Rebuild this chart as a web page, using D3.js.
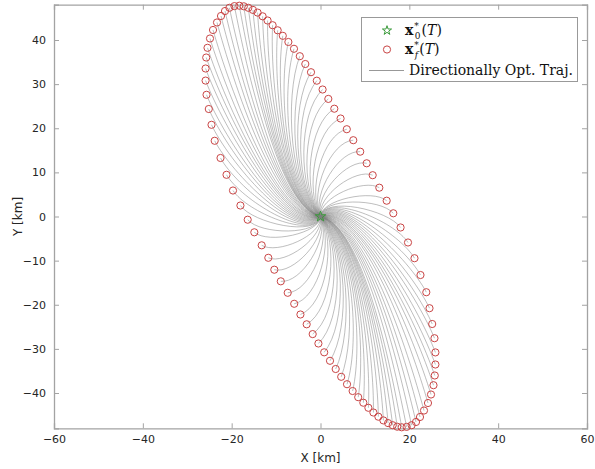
<!DOCTYPE html>
<html><head><meta charset="utf-8">
<script src="https://cdn.jsdelivr.net/npm/d3@7"></script>
<style>body{margin:0;background:#fff}svg{display:block}</style>
</head><body>
<svg id="c" width="595" height="469"></svg>
<script>
// final positions x_f*(T) [km]
const endX = [16.39,14.90,13.24,11.75,10.40,8.94,7.38,5.92,4.52,3.11,1.76,0.47,-0.83,-2.14,-3.42,-4.66,-5.97,-7.23,-8.49,-9.64,-10.78,-11.91,-13.03,-14.16,-15.22,-16.25,-17.27,-18.28,-19.38,-20.51,-21.50,-22.40,-23.30,-24.20,-24.88,-25.44,-25.73,-25.87,-25.87,-25.66,-25.15,-24.54,-23.82,-22.51,-21.16,-19.70,-18.03,
-16.39,-14.90,-13.24,-11.75,-10.40,-8.94,-7.38,-5.92,-4.52,-3.11,-1.76,-0.47,0.83,2.14,3.42,4.66,5.97,7.23,8.49,9.64,10.78,11.91,13.03,14.16,15.22,16.25,17.27,18.28,19.38,20.51,21.50,22.40,23.30,24.20,24.88,25.44,25.73,25.87,25.87,25.66,25.15,24.54,23.82,22.51,21.16,19.70,18.03];
const endY = [0.73,3.58,6.53,9.36,12.06,14.69,17.29,19.78,22.21,24.43,26.65,28.78,30.78,32.70,34.56,36.33,38.01,39.55,40.95,42.20,43.35,44.42,45.37,46.21,46.82,47.30,47.64,47.77,47.68,47.30,46.57,45.44,43.97,42.27,40.34,38.23,36.03,33.54,30.80,27.58,24.36,20.78,17.16,13.26,9.45,5.89,2.49,
-0.73,-3.58,-6.53,-9.36,-12.06,-14.69,-17.29,-19.78,-22.21,-24.43,-26.65,-28.78,-30.78,-32.70,-34.56,-36.33,-38.01,-39.55,-40.95,-42.20,-43.35,-44.42,-45.37,-46.21,-46.82,-47.30,-47.64,-47.77,-47.68,-47.30,-46.57,-45.44,-43.97,-42.27,-40.34,-38.23,-36.03,-33.54,-30.80,-27.58,-24.36,-20.78,-17.16,-13.26,-9.45,-5.89,-2.49];
// initial heading of each trajectory [deg], estimated from the figure
const headStart = [85,90,95,100,105,109,113,117,121,125,128,131,134,137,140,143,146,149,152,155,157,159,161,163,165,167,168,170,173,176,179,182,185,189,193,197,201,205,210,215,220,225,232,239,245,253,260,
265,270,275,280,285,289,293,297,301,305,308,311,314,317,320,323,326,329,332,335,337,339,341,343,345,347,348,350,353,356,359,362,365,369,373,377,381,385,390,395,400,405,412,419,425,433,440];
// length of the initial leg of each trajectory [km], estimated from the figure
const legStart = [4.4,3.8,4.4,4.8,5.3,5.7,6.2,6.5,6.9,7.2,7.5,7.7,8.0,8.1,8.4,8.6,8.7,8.9,9.0,9.2,9.3,9.3,9.5,9.5,9.6,9.6,9.6,9.6,9.8,9.8,9.8,9.8,9.8,9.8,9.6,9.5,9.3,9.2,9.0,8.7,8.4,8.0,7.5,6.9,6.3,5.6,4.8,
4.4,3.8,4.4,4.8,5.3,5.7,6.2,6.5,6.9,7.2,7.5,7.7,8.0,8.1,8.4,8.6,8.7,8.9,9.0,9.2,9.3,9.3,9.5,9.5,9.6,9.6,9.6,9.6,9.8,9.8,9.8,9.8,9.8,9.8,9.6,9.5,9.3,9.2,9.0,8.7,8.4,8.0,7.5,6.9,6.3,5.6,4.8];
// final heading of each trajectory [deg], estimated from the figure
const headEnd = [-50,-41,-32,-24,-15,-6,3,12,21,30,37,44,51,58,65,69,73,77,81,85,87,89,91,93,95,97,98,100,101,102,103,104,105,106,107,108,109,110,111,112,113,115,117,118,120,122,125,
130,139,148,156,165,174,183,192,201,210,217,224,231,238,245,249,253,257,261,265,267,269,271,273,275,277,278,280,281,282,283,284,285,286,287,288,289,290,291,292,293,295,297,298,300,302,305];
// initial state x_0*(T)
const startX = [0], startY = [0];
const xTicks = [-60,-40,-20,0,20,40,60];
const yTicks = [-40,-30,-20,-10,0,10,20,30,40];
const xDomain = [-60,60], yDomain = [-48,48];

const svg = d3.select('#c');
const L=54, R=587, T=4.7, B=428.3;
const x = d3.scaleLinear().domain(xDomain).range([L,R]);
const y = d3.scaleLinear().domain(yDomain).range([B,T]);
const HE = 0.27; // end handle (fraction of distance)

const trajG = svg.append('g');
const rad = Math.PI/180;
endX.forEach((ex,i)=>{
  const ey = endY[i], x0 = startX[0], y0 = startY[0];
  const dist = Math.hypot(ex-x0, ey-y0);
  const a0 = headStart[i]*rad, a1 = headEnd[i]*rad, h0 = legStart[i];
  const p = d3.path();
  p.moveTo(x(x0), y(y0));
  p.bezierCurveTo(x(x0 + h0*Math.cos(a0)), y(y0 + h0*Math.sin(a0)),
                  x(ex - HE*dist*Math.cos(a1)), y(ey - HE*dist*Math.sin(a1)),
                  x(ex), y(ey));
  trajG.append('path').attr('d', p.toString()).attr('fill','none').attr('stroke','#7d7d7d').attr('stroke-width',0.5);
});

// axes
const axCol = '#a3a3a3';
const gx = svg.append('g').attr('transform',`translate(0,${B})`).call(d3.axisBottom(x).tickValues(xTicks).tickSize(-5).tickPadding(7));
const gxt = svg.append('g').attr('transform',`translate(0,${T})`).call(d3.axisTop(x).tickValues(xTicks).tickSize(-5).tickFormat(''));
const gy = svg.append('g').attr('transform',`translate(${L},0)`).call(d3.axisLeft(y).tickValues(yTicks).tickSize(-5).tickPadding(8));
const gyr = svg.append('g').attr('transform',`translate(${R},0)`).call(d3.axisRight(y).tickValues(yTicks).tickSize(-5).tickFormat(''));
[gx,gxt,gy,gyr].forEach(g=>{
  g.select('.domain').attr('stroke',axCol).attr('stroke-width',1.3);
  g.selectAll('.tick line').attr('stroke',axCol);
  g.selectAll('text').attr('font-family','DejaVu Sans').attr('font-size',11).attr('fill','#262626');
});

// markers
svg.append('g').selectAll('circle').data(endX.map((v,i)=>[v,endY[i]])).join('circle')
  .attr('cx',d=>x(d[0])).attr('cy',d=>y(d[1])).attr('r',3.6)
  .attr('fill','none').attr('stroke','#c94545').attr('stroke-width',1);
const star = d3.symbol().type(d3.symbolStar).size(34);
svg.append('path').attr('d',star()).attr('transform',`translate(${x(startX[0])},${y(startY[0])})`)
  .attr('fill','none').attr('stroke','#3a9a3a').attr('stroke-width',1);

// labels
svg.append('text').attr('x',(L+R)/2).attr('y',462).attr('text-anchor','middle')
  .attr('font-family','DejaVu Sans').attr('font-size',12).attr('fill','#262626').text('X [km]');
svg.append('text').attr('transform',`translate(22,${(T+B)/2}) rotate(-90)`).attr('text-anchor','middle')
  .attr('font-family','DejaVu Sans').attr('font-size',12).attr('fill','#262626').text('Y [km]');

// legend
const lg = svg.append('g');
lg.append('rect').attr('x',361.5).attr('y',17.5).attr('width',216).attr('height',64)
  .attr('fill','#fff').attr('stroke','#999').attr('stroke-width',1);
lg.append('path').attr('d',d3.symbol().type(d3.symbolStar).size(26)()).attr('transform','translate(387,30.5)')
  .attr('fill','none').attr('stroke','#3a9a3a').attr('stroke-width',1);
lg.append('circle').attr('cx',387).attr('cy',49.5).attr('r',3.6).attr('fill','none').attr('stroke','#c94545');
lg.append('line').attr('x1',369).attr('x2',404).attr('y1',70.5).attr('y2',70.5).attr('stroke','#7d7d7d').attr('stroke-width',0.8);
const ff = "'DejaVu Serif', serif";
function lab(yb, sub){
  const t = lg.append('text').attr('x',405).attr('y',yb).attr('font-family',ff).attr('font-size',14).attr('fill','#111');
  t.append('tspan').attr('font-weight','bold').text('x');
  t.append('tspan').attr('font-size',9).attr('dy',-6).attr('dx',1).text('*');
  t.append('tspan').attr('font-size',9).attr('dy',10).attr('dx',-4).attr('font-style', sub==='0'?'normal':'italic').text(sub);
  t.append('tspan').attr('dy',-4).attr('dx',1).text('(');
  t.append('tspan').attr('font-style','italic').text('T');
  t.append('tspan').text(')');
}
lab(35,'0');
lab(54,'f');
lg.append('text').attr('x',409).attr('y',74.5).attr('font-family',ff).attr('font-size',14).attr('fill','#111')
  .attr('textLength',164).attr('lengthAdjust','spacingAndGlyphs').text('Directionally Opt. Traj.');
</script>
</body></html>
